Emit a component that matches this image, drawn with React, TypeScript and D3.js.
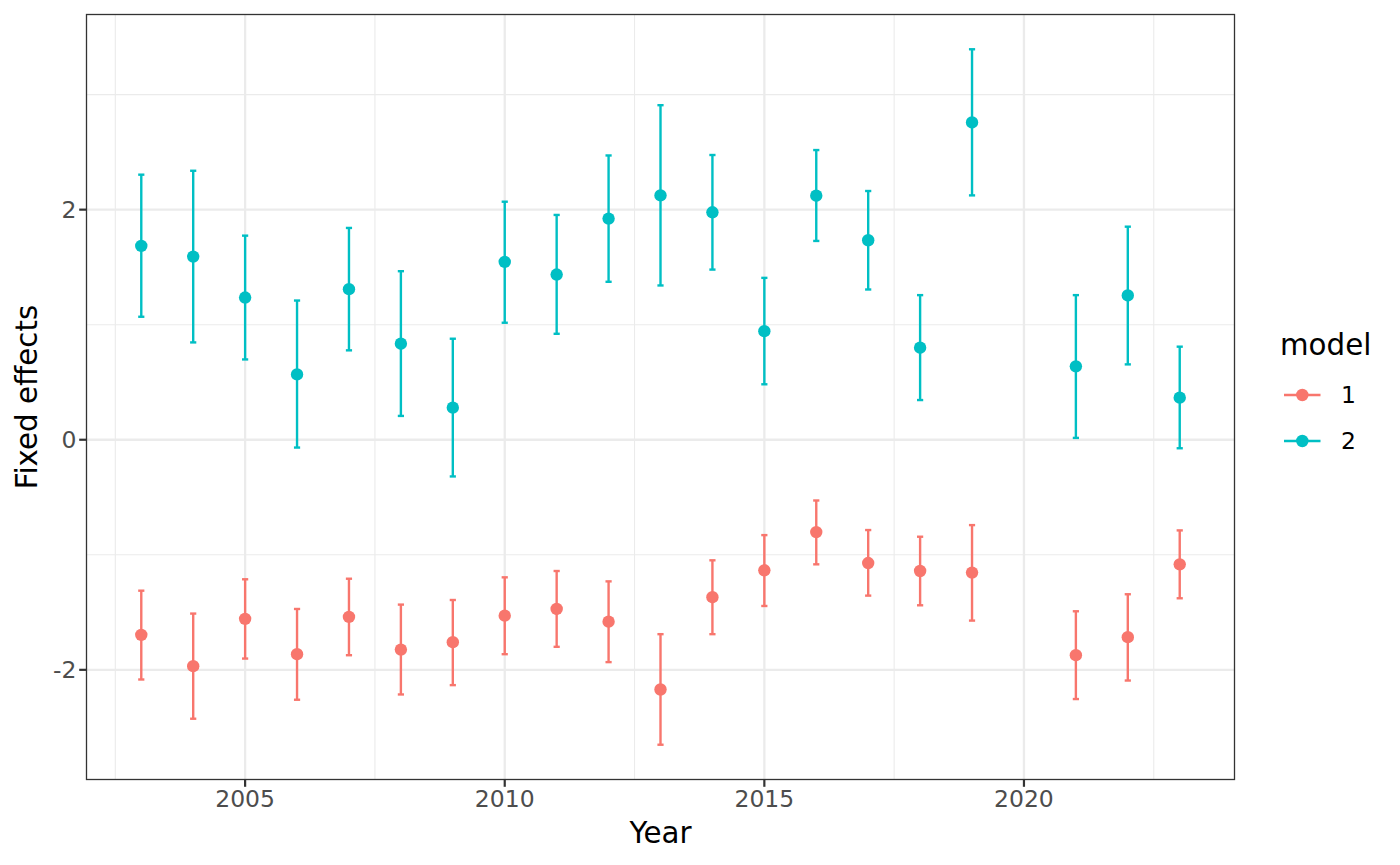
import React from "react";
import * as d3 from "d3";

const years = [2003, 2004, 2005, 2006, 2007, 2008, 2009, 2010, 2011, 2012, 2013, 2014, 2015, 2016, 2017, 2018, 2019, 2021, 2022, 2023];

const model1Est = [-1.696, -1.968, -1.557, -1.864, -1.540, -1.824, -1.760, -1.529, -1.471, -1.581, -2.171, -1.369, -1.135, -0.803, -1.072, -1.141, -1.155, -1.873, -1.716, -1.083];
const model1Lo = [-2.084, -2.425, -1.902, -2.260, -1.873, -2.214, -2.133, -1.864, -1.800, -1.933, -2.651, -1.690, -1.445, -1.083, -1.355, -1.439, -1.572, -2.254, -2.093, -1.378];
const model1Hi = [-1.312, -1.511, -1.213, -1.471, -1.208, -1.433, -1.393, -1.196, -1.141, -1.231, -1.690, -1.048, -0.829, -0.528, -0.785, -0.843, -0.742, -1.491, -1.343, -0.788];

const model2Est = [1.685, 1.592, 1.236, 0.568, 1.309, 0.835, 0.279, 1.546, 1.436, 1.922, 2.124, 1.977, 0.944, 2.121, 1.734, 0.800, 2.758, 0.638, 1.254, 0.366];
const model2Lo = [1.069, 0.846, 0.698, -0.068, 0.777, 0.207, -0.319, 1.017, 0.921, 1.373, 1.341, 1.479, 0.482, 1.728, 1.306, 0.345, 2.124, 0.016, 0.655, -0.074];
const model2Hi = [2.304, 2.338, 1.774, 1.210, 1.841, 1.465, 0.878, 2.069, 1.954, 2.471, 2.908, 2.475, 1.407, 2.518, 2.162, 1.257, 3.394, 1.257, 1.852, 0.809];

const modelNames = ["1", "2"];
const modelColors = ["#F8766D", "#00BFC4"];

const xMajor = [2005, 2010, 2015, 2020];
const xMinor = [2002.5, 2007.5, 2012.5, 2017.5, 2022.5];
const yMajor = [-2, 0, 2];
const yMinor = [-1, 1, 3];

const W = 1400;
const H = 865;
const PL = 86.5, PR = 1234.5, PT = 14.5, PB = 779.5;
const CAP = 0.1;
const FONT = "DejaVu Sans, sans-serif";

export default function App() {
  const xmin = d3.min(years)! - CAP / 2;
  const xmax = d3.max(years)! + CAP / 2;
  const xpad = (xmax - xmin) * 0.05;
  const x = d3.scaleLinear().domain([xmin - xpad, xmax + xpad]).range([PL, PR]);

  const allLo = [...model1Lo, ...model2Lo];
  const allHi = [...model1Hi, ...model2Hi];
  const ymin = d3.min(allLo)!;
  const ymax = d3.max(allHi)!;
  const ypad = (ymax - ymin) * 0.05;
  const y = d3.scaleLinear().domain([ymin - ypad, ymax + ypad]).range([PB, PT]);

  const series = [
    { est: model1Est, lo: model1Lo, hi: model1Hi },
    { est: model2Est, lo: model2Lo, hi: model2Hi },
  ];

  const capHalf = (x(2010 + CAP / 2) - x(2010 - CAP / 2)) / 2 + 0.5;

  return (
    <svg width={W} height={H} style={{ position: "absolute", left: 0, top: 0, display: "block", background: "#fff" }} fontFamily={FONT}>
      <rect x={0} y={0} width={W} height={H} fill="#fff" />
      {xMinor.map((v) => (
        <line key={"xm" + v} x1={x(v)} x2={x(v)} y1={PT} y2={PB} stroke="#EBEBEB" strokeWidth={1.1} />
      ))}
      {yMinor.filter((v) => y(v) > PT && y(v) < PB).map((v) => (
        <line key={"ym" + v} x1={PL} x2={PR} y1={y(v)} y2={y(v)} stroke="#EBEBEB" strokeWidth={1.1} />
      ))}
      {xMajor.map((v) => (
        <line key={"xM" + v} x1={x(v)} x2={x(v)} y1={PT} y2={PB} stroke="#EBEBEB" strokeWidth={2.3} />
      ))}
      {yMajor.map((v) => (
        <line key={"yM" + v} x1={PL} x2={PR} y1={y(v)} y2={y(v)} stroke="#EBEBEB" strokeWidth={2.3} />
      ))}

      {series.map((s, si) => (
        <g key={"s" + si}>
          {years.map((yr, i) => (
            <g key={yr} stroke={modelColors[si]} strokeWidth={2.4}>
              <line x1={x(yr)} x2={x(yr)} y1={y(s.lo[i])} y2={y(s.hi[i])} />
              <line x1={x(yr) - capHalf} x2={x(yr) + capHalf} y1={y(s.lo[i])} y2={y(s.lo[i])} />
              <line x1={x(yr) - capHalf} x2={x(yr) + capHalf} y1={y(s.hi[i])} y2={y(s.hi[i])} />
            </g>
          ))}
          {years.map((yr, i) => (
            <circle key={"p" + yr} cx={x(yr)} cy={y(s.est[i])} r={6.2} fill={modelColors[si]} />
          ))}
        </g>
      ))}

      <rect x={PL} y={PT} width={PR - PL} height={PB - PT} fill="none" stroke="#333333" strokeWidth={1.3} />

      {xMajor.map((v) => (
        <g key={"xt" + v}>
          <line x1={x(v)} x2={x(v)} y1={PB} y2={PB + 7.3} stroke="#333333" strokeWidth={2.2} />
          <text x={x(v)} y={PB + 9.5} dy="0.77em" textAnchor="middle" fontSize={23.47} fill="#4D4D4D">{v}</text>
        </g>
      ))}
      {yMajor.map((v) => (
        <g key={"yt" + v}>
          <line x1={PL - 7.3} x2={PL} y1={y(v)} y2={y(v)} stroke="#333333" strokeWidth={2.2} />
          <text x={PL - 10} y={y(v)} dy="0.36em" textAnchor="end" fontSize={23.47} fill="#4D4D4D">{v}</text>
        </g>
      ))}

      <text x={(PL + PR) / 2} y={843} textAnchor="middle" fontSize={29.33} fill="#000">Year</text>
      <text transform={`translate(37,${(PT + PB) / 2}) rotate(-90)`} textAnchor="middle" fontSize={29.33} fill="#000">Fixed effects</text>

      <text x={1280} y={355} fontSize={29.33} fill="#000">model</text>
      {modelNames.map((m, i) => {
        const cy = 395 + i * 46;
        return (
          <g key={"lg" + m}>
            <line x1={1284} x2={1320.5} y1={cy} y2={cy} stroke={modelColors[i]} strokeWidth={2.4} />
            <circle cx={1302.3} cy={cy} r={6.2} fill={modelColors[i]} />
            <text x={1341} y={cy} dy="0.36em" fontSize={23.47} fill="#000">{m}</text>
          </g>
        );
      })}
    </svg>
  );
}
